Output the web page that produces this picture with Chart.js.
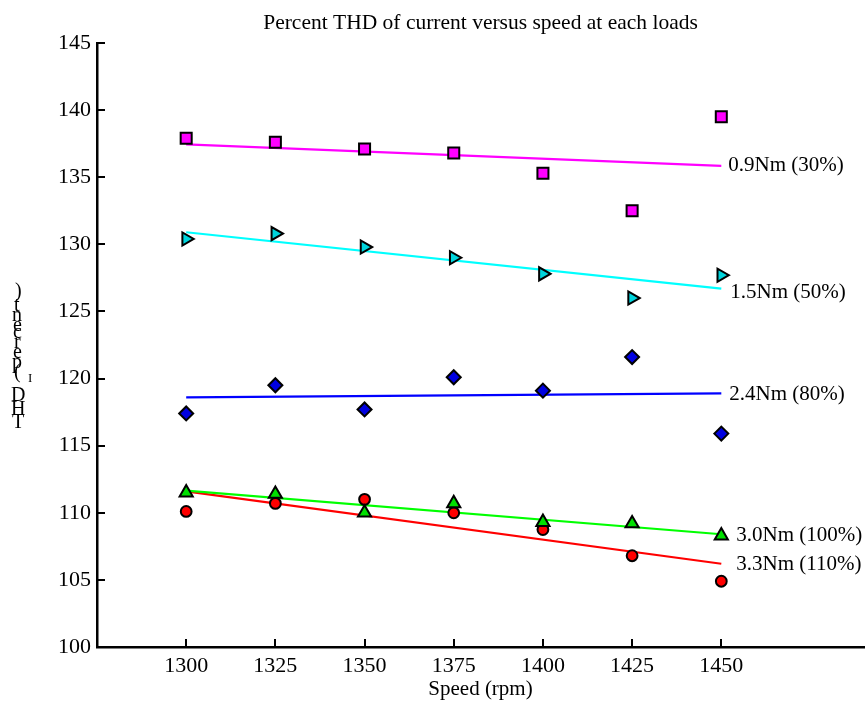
<!DOCTYPE html>
<html>
<head>
<meta charset="utf-8">
<title>Percent THD of current versus speed at each loads</title>
<script src="https://cdn.jsdelivr.net/npm/chart.js@4.4.1/dist/chart.umd.min.js"></script>
<style>
  html, body { margin: 0; padding: 0; background: #ffffff; }
  #wrap { width: 866px; height: 701px; position: relative; }
</style>
</head>
<body>
<div id="wrap"><canvas id="thd" width="866" height="701"></canvas></div>
<script>
// Motor speed (rpm) at which the current THD was measured
const speeds = [1300, 1325, 1350, 1375, 1400, 1425, 1450];

// Measured current THD (%) for each load
const thd09 = [137.9, 137.6, 137.1, 136.8, 135.3, 132.5, 139.5];
const thd15 = [130.4, 130.8, 129.8, 129.0, 127.8, 126.0, 127.7];
const thd24 = [117.4, 119.5, 117.7, 120.1, 119.1, 121.6, 115.9];
const thd30 = [111.5, 111.4, 110.0, 110.7, 109.3, 109.2, 108.3];
const thd33 = [110.1, 110.7, 111.0, 110.0, 108.75, 106.8, 104.9];

// Straight-line trend of each load, value at the first and last speed
const trendStart = [137.45, 130.9, 118.6, 111.65, 111.6];
const trendEnd = [135.85, 126.7, 118.9, 108.4, 106.2];

// Load names written at the end of each trend line
const loadNames = ['0.9Nm (30%)', '1.5Nm (50%)', '2.4Nm (80%)', '3.0Nm (100%)', '3.3Nm (110%)'];

// Axis ticks
const xTickValues = [1300, 1325, 1350, 1375, 1400, 1425, 1450];
const yTickValues = [100, 105, 110, 115, 120, 125, 130, 135, 140, 145];

const series = [thd09, thd15, thd24, thd30, thd33];

// Styling per load
const lineColors = ['#ff00ff', '#00ffff', '#0000ff', '#00ff00', '#ff0000'];
const markerFills = ['#ff00ff', '#00d4dc', '#0000e0', '#00e000', '#ff0000'];
const markerShapes = ['rect', 'triangle', 'rectRot', 'triangle', 'circle'];
const markerSizes = [7.8, 7.6, 7.0, 7.6, 5.4];
const markerTurns = [0, 90, 0, 0, 0];
const nameOffsets = [[7, 0], [9, 4], [8, 1], [15, 1], [15, 1]];

const serif = "'Liberation Serif', 'Times New Roman', serif";

const datasets = [];
series.forEach((vals, i) => {
  datasets.push({
    label: loadNames[i] + ' measured',
    data: speeds.map((s, k) => ({ x: s, y: vals[k] })),
    showLine: false,
    pointStyle: markerShapes[i],
    pointRadius: markerSizes[i],
    pointRotation: markerTurns[i],
    pointBackgroundColor: markerFills[i],
    pointBorderColor: '#000000',
    pointBorderWidth: 2,
    order: 0
  });
});
series.forEach((vals, i) => {
  datasets.push({
    label: loadNames[i],
    data: [
      { x: speeds[0], y: trendStart[i] },
      { x: speeds[speeds.length - 1], y: trendEnd[i] }
    ],
    showLine: true,
    borderColor: lineColors[i],
    borderWidth: 2.2,
    pointRadius: 0,
    fill: false,
    order: 1
  });
});

// Titles, inward tick marks, trend names and the y-axis caption
const decorations = {
  id: 'decorations',
  afterDraw(chart) {
    const ctx = chart.ctx;
    const xs = chart.scales.x;
    const ys = chart.scales.y;
    const area = chart.chartArea;
    ctx.save();

    // inward tick marks
    ctx.strokeStyle = '#000000';
    ctx.lineWidth = 2;
    ctx.beginPath();
    xs.ticks.forEach(t => {
      const px = Math.round(xs.getPixelForValue(t.value));
      ctx.moveTo(px, area.bottom);
      ctx.lineTo(px, area.bottom - 8);
    });
    ys.ticks.forEach(t => {
      const py = Math.round(ys.getPixelForValue(t.value));
      ctx.moveTo(area.left, py);
      ctx.lineTo(area.left + 8, py);
    });
    ctx.stroke();

    ctx.fillStyle = '#000000';

    // chart title
    ctx.font = '21.5px ' + serif;
    ctx.textAlign = 'center';
    ctx.textBaseline = 'alphabetic';
    ctx.fillText('Percent THD of current versus speed at each loads', (area.left + area.right) / 2, 29);

    // x-axis caption
    ctx.font = '21px ' + serif;
    ctx.fillText('Speed (rpm)', (area.left + area.right) / 2, 695);

    // names at the end of each trend line
    ctx.font = '21px ' + serif;
    ctx.textAlign = 'left';
    ctx.textBaseline = 'middle';
    loadNames.forEach((name, i) => {
      const px = xs.getPixelForValue(speeds[speeds.length - 1]) + nameOffsets[i][0];
      const py = ys.getPixelForValue(trendEnd[i]) + nameOffsets[i][1];
      ctx.fillText(name, px, py);
    });

    // y-axis caption, glyphs set upright and stacked upwards
    ctx.textBaseline = 'alphabetic';
    ctx.textAlign = 'left';
    const stack = [
      ['T', 12, 428, 20], ['H', 11, 415, 20], ['D', 11, 401, 20],
      ['I', 28, 382, 13],
      ['(', 14, 378, 20], ['p', 12, 368, 20], ['e', 13, 358, 20],
      ['r', 14, 348, 20], ['c', 13, 338, 20], ['e', 13, 331, 20],
      ['n', 12, 321, 20], ['t', 14, 311, 20], [')', 15, 297, 20]
    ];
    stack.forEach(([ch, x, y, size]) => {
      ctx.font = size + 'px ' + serif;
      ctx.fillText(ch, x, y);
    });

    ctx.restore();
  }
};

new Chart(document.getElementById('thd'), {
  type: 'scatter',
  data: { datasets },
  options: {
    responsive: false,
    animation: false,
    devicePixelRatio: 1,
    layout: { autoPadding: false, padding: { left: 0, top: 43, right: 2, bottom: 0 } },
    plugins: {
      legend: { display: false },
      title: { display: false },
      tooltip: { enabled: false }
    },
    scales: {
      x: {
        type: 'linear',
        min: 1275,
        max: 1490,
        grid: { display: false, drawTicks: false },
        border: { display: true, color: '#000000', width: 2.5 },
        afterBuildTicks: (scale) => { scale.ticks = xTickValues.map(v => ({ value: v })); },
        afterFit: (scale) => {
          scale.height = 54;
          scale.paddingLeft = 0;
          scale.paddingRight = 0;
        },
        ticks: {
          color: '#000000',
          padding: 6,
          maxRotation: 0,
          autoSkip: false,
          font: { family: serif, size: 22 },
          callback: (v) => String(v)
        }
      },
      y: {
        type: 'linear',
        min: 100,
        max: 145,
        grid: { display: false, drawTicks: false },
        border: { display: true, color: '#000000', width: 2.5 },
        afterBuildTicks: (scale) => { scale.ticks = yTickValues.map(v => ({ value: v })); },
        afterFit: (scale) => {
          scale.width = 97;
          scale.paddingTop = 0;
          scale.paddingBottom = 0;
        },
        ticks: {
          color: '#000000',
          padding: 6,
          autoSkip: false,
          font: { family: serif, size: 22 },
          callback: (v) => String(v)
        }
      }
    }
  },
  plugins: [decorations]
});
</script>
</body>
</html>
